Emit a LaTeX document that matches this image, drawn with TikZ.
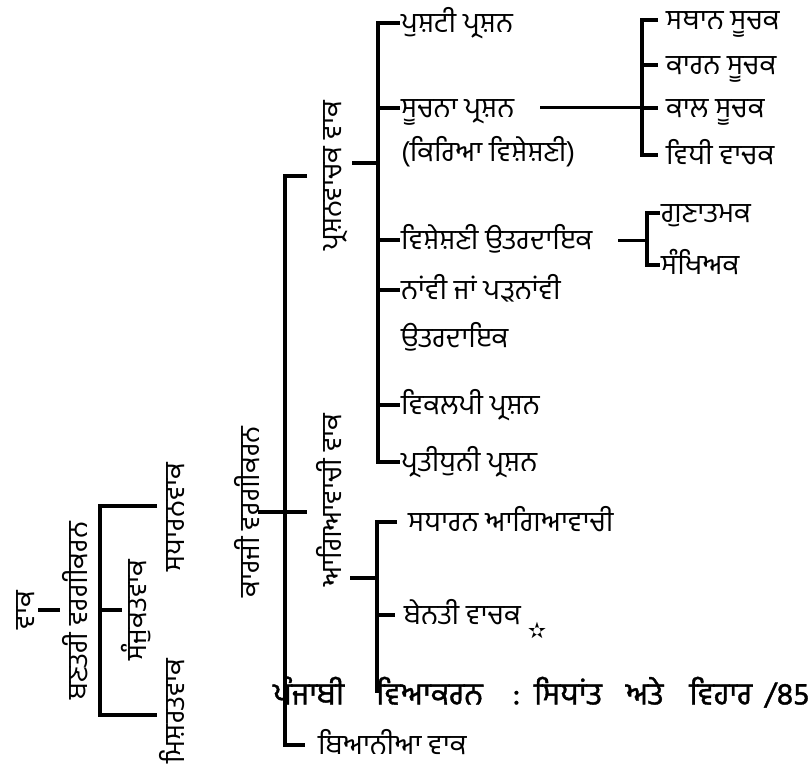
\documentclass[tikz,border=0pt]{standalone}
\usepackage{fontspec}
\setmainfont[Script=Gurmukhi]{Hind Jalandhar}
\newfontfamily\footfont[Script=Gurmukhi, FakeBold=1.2]{Hind Jalandhar}
\newfontfamily\symfont{DejaVu Sans}
\usetikzlibrary{positioning}
\tikzset{
  lbl/.style={anchor=west, inner sep=0pt, text height=25pt, text depth=6pt, font=\fontsize{28}{32}\selectfont},
  vlbl/.style={rotate=90, inner sep=0pt, text height=25pt, text depth=6pt, font=\fontsize{28}{32}\selectfont},
  brk/.style={line width=3.5pt},
  thinbrk/.style={line width=3pt}
}

\begin{document}
\begin{tikzpicture}[x=1pt,y=-1pt]
                \useasboundingbox (0,0) rectangle (808,773);

                % Structural classification
                \node[vlbl] (vak) at (25,610) {ਵਾਕ};
                \node[vlbl] (bantari) at (78,611) {ਬਣਤਰੀ ਵਰਗੀਕਰਨ};
                \node[vlbl] (sadharan) at (175,517) {ਸਧਾਰਨਵਾਕ};
                \node[vlbl] (sanjukat) at (137,610) {ਸੰਜੁਕਤਵਾਕ};
                \node[vlbl] (mishrat) at (175,711) {ਮਿਸ਼ਰਤਵਾਕ};
                \coordinate (v0) at (38,610);
                \coordinate (v1) at (60,610);
                \coordinate (s0) at (100,506);
                \coordinate (s1) at (157,506);
                \coordinate (m0) at (100,715);
                \coordinate (m1) at (157,715);
                \coordinate (j0) at (100,610);
                \coordinate (j1) at (122,610);
                \draw[brk] (v0) -- (v1);
                \draw[brk] (s1) -- (s0) -- (m0) -- (m1);
                \draw[brk] (j0) -- (j1);

                % Functional classification
                \node[vlbl] (karji) at (250,512) {ਕਾਰਜੀ ਵਰਗੀਕਰਨ};
                \node[vlbl] (prashan) at (332,176) {ਪ੍ਰਸ਼ਨਵਾਚਕ ਵਾਕ};
                \node[vlbl] (agia) at (332,500) {ਆਗਿਆਵਾਚੀ ਵਾਕ};
                \coordinate (k0) at (258,512);
                \coordinate (k1) at (307,512);
                \coordinate (p0) at (285,176);
                \coordinate (p1) at (307,176);
                \coordinate (b0) at (285,745);
                \coordinate (b1) at (305,745);
                \draw[brk] (k0) -- (k1);
                \draw[brk] (p1) -- (p0) -- (b0) -- (b1);
                \node[lbl, right=13pt of b1] (biania) {ਬਿਆਨੀਆ ਵਾਕ};

                % Interrogative sentences
                \coordinate (q0) at (352,163);
                \coordinate (q1) at (378,163);
                \draw[brk] (q0) -- (q1);
                \coordinate (t1) at (378,23);
                \coordinate (t2) at (378,108);
                \coordinate (t3) at (378,240);
                \coordinate (t4) at (378,290);
                \coordinate (t5) at (378,405);
                \coordinate (t6) at (378,462);
                \draw[brk] ([xshift=22pt]t1) -- (t1) -- (t6) -- ([xshift=22pt]t6);
                \foreach \t in {t2,t3,t4,t5}
                    \draw[brk] (\t) -- ([xshift=22pt]\t);
                \node[lbl, right=23pt of t1] (pushti) {ਪੁਸ਼ਟੀ ਪ੍ਰਸ਼ਨ};
                \node[lbl, right=23pt of t2] (suchna) {ਸੂਚਨਾ ਪ੍ਰਸ਼ਨ};
                \node[lbl, below=44pt of suchna.west, anchor=west] (kiria) {(ਕਿਰਿਆ ਵਿਸ਼ੇਸ਼ਣੀ)};
                \node[lbl, right=23pt of t3] (visheshni) {ਵਿਸ਼ੇਸ਼ਣੀ ਉਤਰਦਾਇਕ};
                \node[lbl, right=23pt of t4] (nanvi) {ਨਾਂਵੀ ਜਾਂ ਪੜਨਾਂਵੀ};
                \node[lbl, below=48pt of nanvi.west, anchor=west] (utar) {ਉਤਰਦਾਇਕ};
                \node[lbl, right=23pt of t5] (vikalpi) {ਵਿਕਲਪੀ ਪ੍ਰਸ਼ਨ};
                \node[lbl, right=23pt of t6] (pratidhuni) {ਪ੍ਰਤੀਧੁਨੀ ਪ੍ਰਸ਼ਨ};

                % information question types
                \coordinate (i0) at (540,108);
                \coordinate (i1) at (642,108);
                \draw[thinbrk] (i0) -- (i1);
                \coordinate (u1) at (642,20);
                \coordinate (u2) at (642,65);
                \coordinate (u3) at (642,108);
                \coordinate (u4) at (642,155);
                \draw[brk] ([xshift=16pt]u1) -- (u1) -- (u4) -- ([xshift=16pt]u4);
                \draw[brk] (u2) -- ([xshift=16pt]u2);
                \draw[brk] (u3) -- ([xshift=16pt]u3);
                \node[lbl, right=24pt of u1] (sthan) {ਸਥਾਨ ਸੂਚਕ};
                \node[lbl, right=24pt of u2] (karan) {ਕਾਰਨ ਸੂਚਕ};
                \node[lbl, right=24pt of u3] (kal) {ਕਾਲ ਸੂਚਕ};
                \node[lbl, right=24pt of u4] (vidhi) {ਵਿਧੀ ਵਾਚਕ};

                % adjectival answer types
                \coordinate (a0) at (618,240);
                \coordinate (a1) at (647,240);
                \draw[thinbrk] (a0) -- (a1);
                \coordinate (g1) at (647,213);
                \coordinate (g2) at (647,265);
                \draw[brk] ([xshift=13pt]g1) -- (g1) -- (g2) -- ([xshift=13pt]g2);
                \node[lbl, right=14pt of g1] (gunatmak) {ਗੁਣਾਤਮਕ};
                \node[lbl, right=14pt of g2] (sankhiak) {ਸੰਖਿਅਕ};

                % Imperative sentences
                \coordinate (r0) at (350,578);
                \coordinate (r1) at (377,578);
                \draw[brk] (r0) -- (r1);
                \coordinate (h1) at (377,522);
                \coordinate (h2) at (377,615);
                \coordinate (h3) at (377,693);
                \draw[brk] ([xshift=20pt]h1) -- (h1) -- (h3);
                \draw[brk] (h2) -- ([xshift=18pt]h2);
                \node[lbl, right=31pt of h1] (sadharanagia) {ਸਧਾਰਨ ਆਗਿਆਵਾਚੀ};
                \node[lbl, right=27pt of h2] (benti) {ਬੇਨਤੀ ਵਾਚਕ};
                \node[inner sep=0pt, font=\symfont\fontsize{22}{22}\selectfont] (spark) at (537,630) {✫};

                % page footer
                \node[lbl, anchor=west, font=\footfont\fontsize{31}{34}\selectfont] (footer) at (273,695)
                    {ਪੰਜਾਬੀ\hspace{32pt}ਵਿਆਕਰਨ\hspace{30pt}:\hspace{14pt}ਸਿਧਾਂਤ\hspace{24pt}ਅਤੇ\hspace{26pt}ਵਿਹਾਰ\hspace{12pt}/85};
\end{tikzpicture}
\end{document}
